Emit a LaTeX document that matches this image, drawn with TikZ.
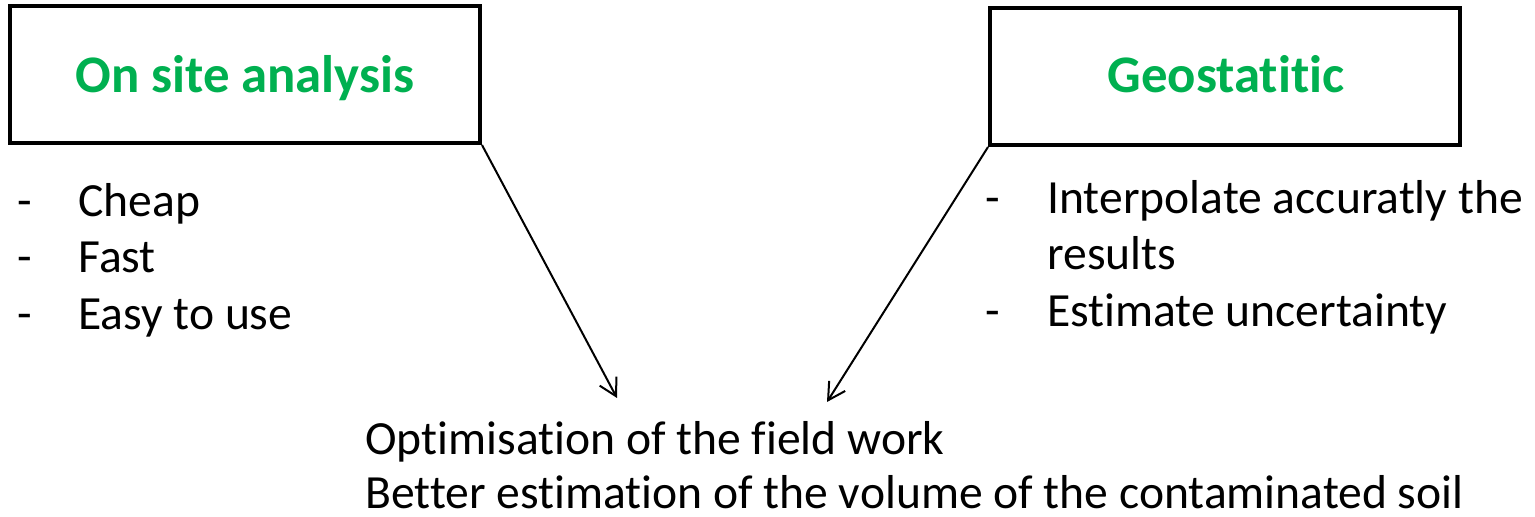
\documentclass[tikz,border=0pt]{standalone}
\usepackage{fontspec}
\setmainfont{Carlito}[Ligatures=NoCommon]
\usetikzlibrary{arrows.meta}
\definecolor{offgreen}{HTML}{00B050}
\begin{document}
\begin{tikzpicture}[x=0.5pt,y=-0.5pt,
  box/.style={draw, line width=2pt, minimum width=235pt, minimum height=68.5pt, inner sep=0pt},
  title/.style={anchor=base, inner sep=0pt, text=offgreen, font=\fontsize{26.4}{32}\selectfont\bfseries},
  item/.style={anchor=base west, inner sep=0pt, font=\fontsize{23.8}{28.5}\selectfont},
  conn/.style={line width=1pt, -{Straight Barb[length=8.5pt,width=9.5pt]}}]
\useasboundingbox (0,0) rectangle (1535,517);
% boxes
\node[box] (b1) at (245,74.5) {};
\node[box] (b2) at (1225,76.5) {};
\node[title] (t1) at (245,93) {On site analysis};
\node[title] (t2) at (1226,93) {Geostatitic};
% left list
\node[item] (d1) at (17,217) {-};
\node[item] (d2) at (17,273) {-};
\node[item] (d3) at (17,330) {-};
\node[item] (l1) at (78,217) {Cheap};
\node[item] (l2) at (78,273) {Fast};
\node[item] (l3) at (78,330) {Easy to use};
% right list
\node[item] (e1) at (985,214) {-};
\node[item] (e3) at (985,327) {-};
\node[item] (r1) at (1047,214) {Interpolate accuratly the};
\node[item] (r2) at (1047,270) {results};
\node[item] (r3) at (1047,327) {Estimate uncertainty};
% bottom text
\node[item] (o1) at (365,455) {Optimisation of the field work};
\node[item] (o2) at (365,509) {Better estimation of the volume of the contaminated soil};
% connectors
\coordinate (p1) at (617,398);
\coordinate (p2) at (827,402);
\draw[conn] (b1.south east) -- (p1);
\draw[conn] (b2.south west) -- (p2);
\end{tikzpicture}
\end{document}
